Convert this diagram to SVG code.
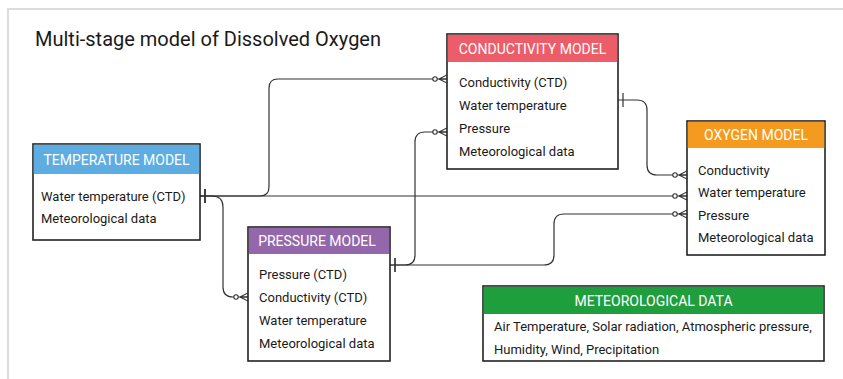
<svg xmlns="http://www.w3.org/2000/svg" width="843" height="379" viewBox="0 0 843 379">
<style>
.frame{stroke:#dcdcdc;stroke-width:2;fill:none}
.box{fill:#fff;stroke:#222;stroke-width:1.6}
.hdr{font-family:Roboto,"Noto Sans",sans-serif;font-size:14px;fill:#fff;text-anchor:middle}
.txt{font-family:Roboto,"Noto Sans",sans-serif;font-size:13px;fill:#1a1a1a}
.title{font-family:Roboto,"Noto Sans",sans-serif;font-size:20px;fill:#1a1a1a}
.conn{fill:none;stroke:#333;stroke-width:1.2;marker-start:url(#one);marker-end:url(#many)}
</style>
<defs>
<marker id="many" markerUnits="userSpaceOnUse" markerWidth="16" markerHeight="12" refX="16" refY="6" orient="auto" viewBox="0 0 16 12">
<circle cx="4" cy="6" r="2.2" fill="#fff" stroke="#333" stroke-width="1.1"/>
<path d="M8 6L16 2M8 6H16M8 6L16 10" fill="none" stroke="#333" stroke-width="1.1"/>
</marker>
<marker id="one" markerUnits="userSpaceOnUse" markerWidth="10" markerHeight="14" refX="0" refY="7" orient="auto" viewBox="0 0 10 14">
<path d="M5 0V14" stroke="#333" stroke-width="1.2"/>
</marker>
</defs>
<rect width="843" height="379" fill="#fff"/>
<path class="frame" d="M8 379V9H843"/>
<text class="title" x="35" y="46">Multi-stage model of Dissolved Oxygen</text>

<g id="connectors">
<path class="conn" d="M200 196H260Q269 196 269 187V88Q269 79 278 79H447"/>
<path class="conn" d="M200 196H687"/>
<path class="conn" d="M200 196H212Q223 196 223 207V287Q223 297 233 297H248"/>
<path class="conn" d="M390 265H405Q415 265 415 255V142Q415 132 425 132H447"/>
<path class="conn" d="M390 265H544Q554 265 554 255V224Q554 214 564 214H687"/>
<path class="conn" d="M618 100H637Q647 100 647 110V165Q647 175 657 175H687"/>
</g>

<g id="temperature-model">
<rect class="box" x="33" y="144" width="167" height="96"/>
<rect x="33.8" y="144.8" width="165.4" height="29.2" fill="#5DADE2"/>
<text class="hdr" x="116.5" y="165">TEMPERATURE MODEL</text>
<text class="txt" x="41" y="201">Water temperature (CTD)</text>
<text class="txt" x="41" y="223">Meteorological data</text>
</g>

<g id="conductivity-model">
<rect class="box" x="447" y="34" width="171" height="135"/>
<rect x="447.8" y="34.8" width="169.4" height="27.2" fill="#EC5C69"/>
<text class="hdr" x="532.5" y="54">CONDUCTIVITY MODEL</text>
<text class="txt" x="459" y="87">Conductivity (CTD)</text>
<text class="txt" x="459" y="110">Water temperature</text>
<text class="txt" x="459" y="133">Pressure</text>
<text class="txt" x="459" y="156">Meteorological data</text>
</g>

<g id="oxygen-model">
<rect class="box" x="687" y="121" width="138" height="134"/>
<rect x="687.8" y="121.8" width="136.4" height="26.2" fill="#F39A1F"/>
<text class="hdr" x="756" y="140">OXYGEN MODEL</text>
<text class="txt" x="698" y="175">Conductivity</text>
<text class="txt" x="698" y="197">Water temperature</text>
<text class="txt" x="698" y="220">Pressure</text>
<text class="txt" x="698" y="242">Meteorological data</text>
</g>

<g id="pressure-model">
<rect class="box" x="248" y="227" width="142" height="134" stroke-width="2"/>
<rect x="249" y="228" width="140" height="26" fill="#9467AA"/>
<text class="hdr" x="317" y="246">PRESSURE MODEL</text>
<text class="txt" x="259" y="279">Pressure (CTD)</text>
<text class="txt" x="259" y="302">Conductivity (CTD)</text>
<text class="txt" x="259" y="325">Water temperature</text>
<text class="txt" x="259" y="348">Meteorological data</text>
</g>

<g id="meteorological-data">
<rect class="box" x="483" y="286" width="341" height="75"/>
<rect x="483.8" y="286.8" width="339.4" height="27.2" fill="#1F9E3D"/>
<text class="hdr" x="653.5" y="306">METEOROLOGICAL DATA</text>
<text class="txt" x="494" y="331">Air Temperature, Solar radiation, Atmospheric pressure,</text>
<text class="txt" x="494" y="354">Humidity, Wind, Precipitation</text>
</g>
</svg>
